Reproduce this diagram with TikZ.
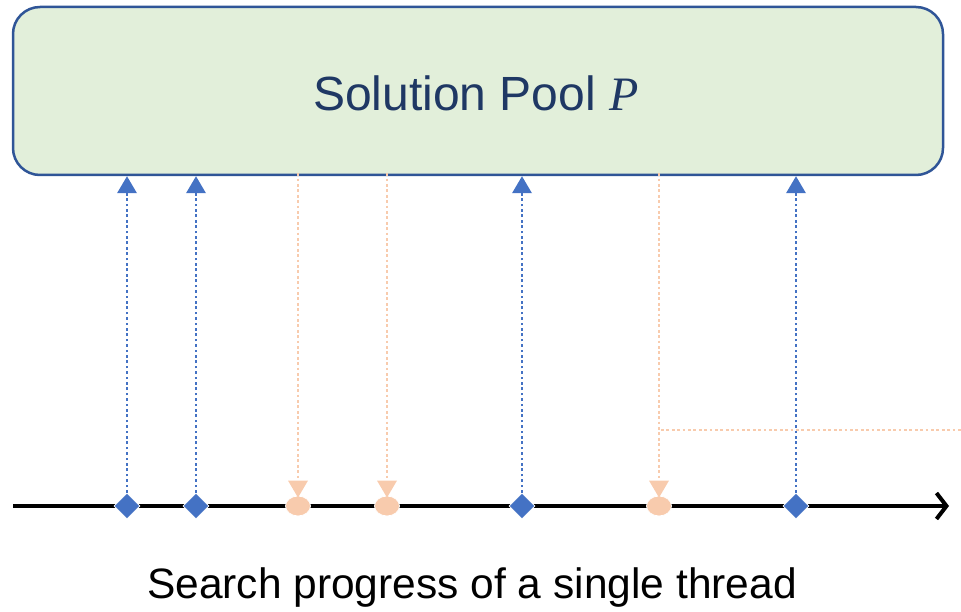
\documentclass[tikz,border=0pt]{standalone}
\usepackage{fontspec}
\setmainfont{Liberation Sans}
\newfontfamily\mathlike{Liberation Serif}
\usetikzlibrary{arrows.meta,shapes.geometric}
\definecolor{poolfill}{HTML}{E2EFDA}
\definecolor{pooldraw}{HTML}{2F5597}
\definecolor{pooltext}{HTML}{1F3864}
\definecolor{blu}{HTML}{4472C4}
\definecolor{org}{HTML}{F8CBAD}
\tikzset{
  poolbox/.style={draw=pooldraw,line width=2.5pt,fill=poolfill,rounded corners=27pt,minimum width=930pt,minimum height=168pt,inner sep=0pt},
  dia/.style={diamond,fill=blu,draw=white,line width=0.8pt,inner sep=0pt,minimum width=26pt,minimum height=26pt},
  dot/.style={ellipse,fill=org,draw=white,line width=0.8pt,inner sep=0pt,minimum width=25pt,minimum height=20pt},
  upline/.style={blu,line width=2.7pt,dash pattern=on 2.7pt off 2.7pt,-{Triangle[width=20pt,length=17pt,line width=0pt,sep=0pt]}},
  downline/.style={org,line width=2.7pt,dash pattern=on 2.7pt off 2.7pt,-{Triangle[width=20pt,length=17pt,line width=0pt]}},
  hline/.style={org,line width=2.7pt,dash pattern=on 2.7pt off 2.7pt},
  axis/.style={black,line width=4pt,-{Straight Barb[length=10pt,width=26pt,line width=4pt]}},
}
\begin{document}
\begin{tikzpicture}[x=1pt,y=-1pt]
\useasboundingbox (0,0) rectangle (961,612);
\node[poolbox] (pool) at (478,91) {};
\node[text=pooltext,font=\fontsize{48}{56}\selectfont] (title) at (476,93) {Solution Pool {\mathlike\itshape P}};
\coordinate (axL) at (13,506);
\coordinate (axR) at (949,506);
\draw[axis] (axL) -- (axR);
\node[dia] (m1) at (127,506) {};
\node[dia] (m2) at (196,506) {};
\node[dot] (m3) at (298,506) {};
\node[dot] (m4) at (387,506) {};
\node[dia] (m5) at (522,506) {};
\node[dot] (m6) at (659,506) {};
\node[dia] (m7) at (796,506) {};
\coordinate (hs) at (661,430);
\coordinate (he) at (961,430);
\draw[hline] (hs) -- (he);
\foreach \m in {m1,m2,m5,m7}{
  \draw[upline] (\m.north) -- (\m |- pool.south);
}
\foreach \m in {m3,m4,m6}{
  \draw[downline] ([yshift=3pt]\m |- pool.south) -- ([yshift=-2pt]\m.north);
}
\node[font=\fontsize{42.5}{48}\selectfont] (cap) at (472,588) {Search progress of a single thread};
\end{tikzpicture}
\end{document}
